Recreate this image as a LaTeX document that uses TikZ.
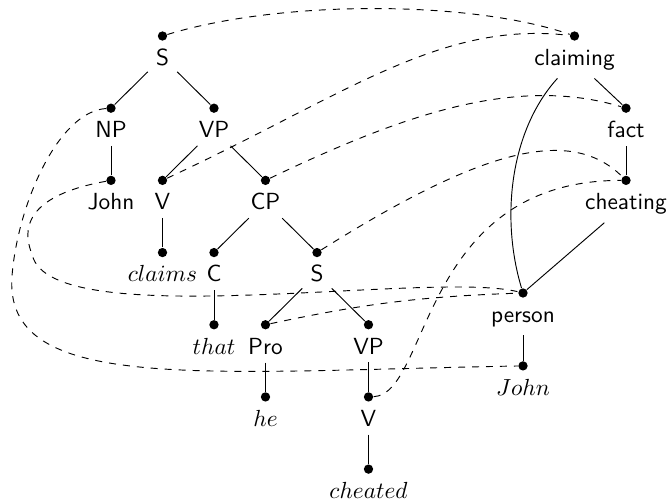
\documentclass[tikz,border=0pt]{standalone}
\usepackage{tikz}

\tikzset{
  bullet/.style={circle,fill=black,inner sep=0pt,minimum size=4pt},
  cat/.style={font=\sffamily},
  lex/.style={},
  link/.style={dashed},
}
% dot with its label underneath
\newcommand{\treenode}[4]{%
  \node[bullet] (#1) at (#2) {};
  \node[#4,anchor=base] (#1-l) at ([yshift=-12.6pt]#1) {#3};}

\begin{document}
\begin{tikzpicture}[x=0.777cm,y=1.089cm]
\useasboundingbox (-2.155,0.499) rectangle (10.835,-6.454);
%syntax tree
\treenode{s}{1,0}{S}{cat}
\treenode{np}{0,-1}{NP}{cat}
\treenode{vp}{2,-1}{VP}{cat}
\treenode{john}{0,-2}{John}{cat}
\treenode{v}{1,-2}{V}{cat}
\treenode{cp}{3,-2}{CP}{cat}
\treenode{claims}{1,-3}{$claims$}{lex}
\treenode{c}{2,-3}{C}{cat}
\treenode{s2}{4,-3}{S}{cat}
\treenode{that}{2,-4}{$that$}{lex}
\treenode{pro}{3,-4}{Pro}{cat}
\treenode{vp2}{5,-4}{VP}{cat}
\treenode{he}{3,-5}{$he$}{lex}
\treenode{v2}{5,-5}{V}{cat}
\treenode{cheated}{5,-6}{$cheated$}{lex}
%semantic structure
\treenode{claiming}{9,0}{claiming}{cat}
\treenode{fact}{10,-1}{fact}{cat}
\treenode{cheating}{10,-2}{cheating}{cat}
\treenode{person}{8,-3.56}{person}{cat}
\treenode{name}{8,-4.57}{$John$}{lex}
%tree edges
\draw (s-l) -- (np);
\draw (s-l) -- (vp);
\draw (np-l) -- (john);
\draw (vp-l) -- (v);
\draw (vp-l) -- (cp);
\draw (v-l) -- (claims);
\draw (cp-l) -- (c);
\draw (cp-l) -- (s2);
\draw (c-l) -- (that);
\draw (s2-l) -- (pro);
\draw (s2-l) -- (vp2);
\draw (pro-l) -- (he);
\draw (vp2-l) -- (v2);
\draw (v2-l) -- (cheated);
\draw (claiming-l) -- (fact);
\draw (fact-l) -- (cheating);
\draw (cheating-l) -- (person);
\draw (claiming-l) .. controls (7.77,-1.29) and (7.55,-2.49) .. (person);
\draw (person-l) -- (name);
%links
\draw[link] (s) .. controls (3.28,0.5) and (6.97,0.5) .. (claiming);
\draw[link] (v) .. controls (4.52,-0.83) and (6.39,0.22) .. (claiming);
\draw[link] (cp) .. controls (5.67,-1.09) and (7.86,-0.54) .. (fact);
\draw[link] (s2) .. controls (7.17,-1.58) and (8.91,-1.23) .. (cheating);
\draw[link] (v2) .. controls (6.19,-4.96) and (6,-2) .. (cheating);
\draw[link] (pro) to[bend left=5] (person);
\draw[link] (john) .. controls (-1.17,-2.15) and (-1.86,-2.45) .. (-1.53,-3.03)
  .. controls (-1.18,-4.14) and (6.19,-3.24) .. (person);
\draw[link] (np) .. controls (-1.03,-1.05) and (-1.81,-2.34) .. (-1.92,-3.31)
  .. controls (-2.12,-4.96) and (1.73,-4.65) .. (name);
\end{tikzpicture}
\end{document}
